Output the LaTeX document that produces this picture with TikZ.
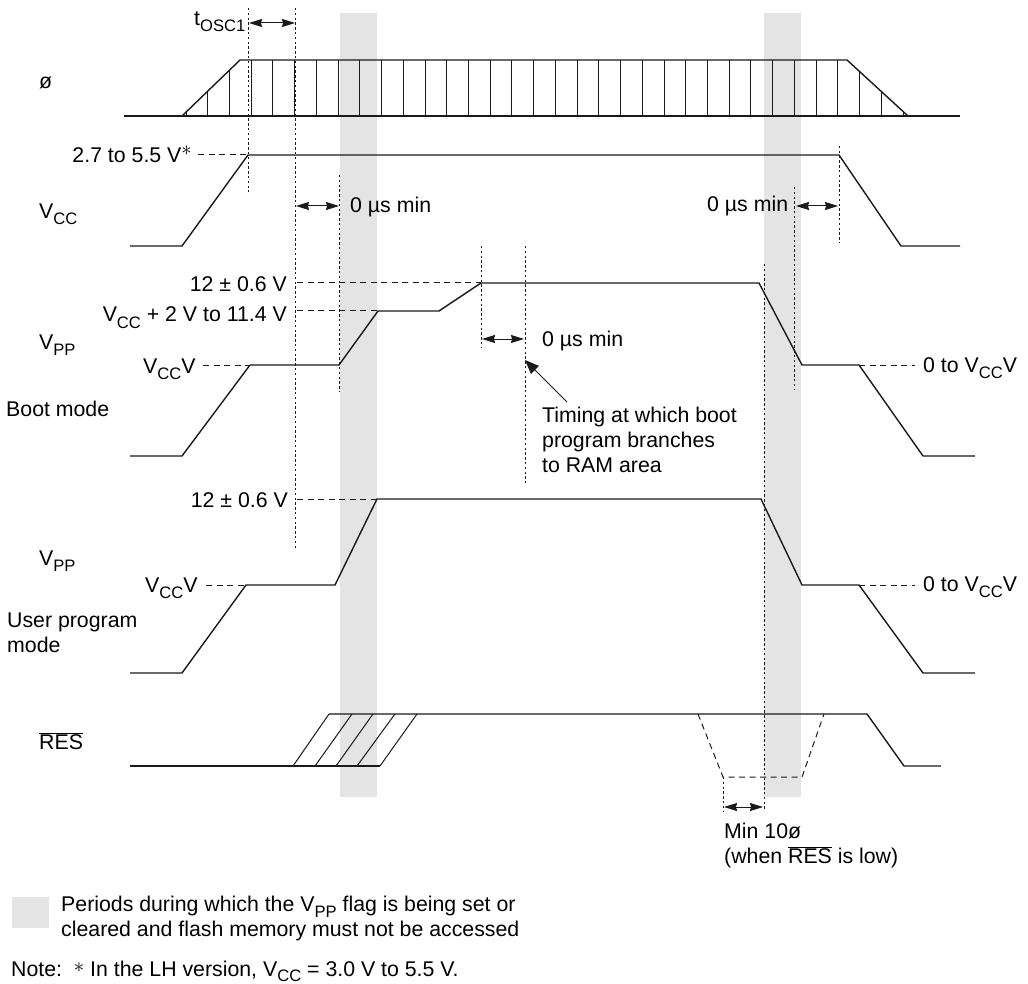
\documentclass[tikz,border=0pt]{standalone}
\usepackage{fontspec}
\setmainfont{Liberation Sans}
\usetikzlibrary{arrows.meta}
\definecolor{bandgray}{HTML}{E4E4E4}
\definecolor{inkdark}{HTML}{1A1A1A}
\newcommand{\lowsub}[1]{\raisebox{-6pt}{\fontsize{16.6}{16.6}\selectfont #1}}
\newcommand{\resbar}{$\overline{\hbox{RES}}$}
\tikzset{
  sig/.style={inkdark,line width=1.4pt,line join=miter},
  hatchline/.style={inkdark,line width=1pt},
  levelline/.style={inkdark,line width=1pt,dash pattern=on 6pt off 4.5pt},
  timeline/.style={inkdark,line width=1pt,dash pattern=on 2.4pt off 2.4pt},
  span/.style={inkdark,line width=1pt,{Stealth[length=13pt,width=8pt,inset=1pt]}-{Stealth[length=13pt,width=8pt,inset=1pt]}},
  lbl/.style={inner sep=0pt,text=black,font=\fontsize{21.3}{25}\selectfont},
  lblw/.style={lbl,anchor=base west},
  lble/.style={lbl,anchor=base east},
  lblm/.style={lbl,anchor=north west,align=left}
}
\begin{document}
\begin{tikzpicture}[x=1pt,y=-1pt]
  \useasboundingbox (0,0) rectangle (1028,984);
  % forbidden periods
  \fill[bandgray] (340,13) rectangle (377,797);
  \fill[bandgray] (764,13) rectangle (801,797);
  \fill[bandgray] (12,897) rectangle (49,928);
  % clock
  \begin{scope}
    \clip (182,116) -- (240,60) -- (847,60) -- (908,116) -- cycle;
    \foreach \k in {0,...,33} {
      \draw[hatchline] ({186+21.73*\k},60) -- ({186+21.73*\k},116);
    }
  \end{scope}
  \draw[sig] (124,116) -- (960,116);
  \draw[sig] (182,116) -- (240,60) -- (847,60) -- (908,116);
  % supply
  \draw[sig] (130,246) -- (182,246) -- (248,155) -- (839,155) -- (901,246) -- (960,246);
  % boot mode
  \draw[sig] (130,456) -- (182,456) -- (250,365) -- (339,365) -- (378,311) -- (439,311)
    -- (481,283) -- (759,283) -- (802,365) -- (859,365) -- (923,456) -- (975,456);
  % user program mode
  \draw[sig] (130,673) -- (182,673) -- (246,585) -- (335,585) -- (377,499) -- (761,499)
    -- (802,585) -- (859,585) -- (923,673) -- (975,673);
  % reset
  \draw[sig] (130,766) -- (380,766);
  \draw[sig] (329,714) -- (867,714) -- (904,766) -- (941,766);
  \foreach \a/\b in {293/329,315/352,336/373,357/395,380/417} {
    \draw[hatchline] (\a,766) -- (\b,714);
  }
  \draw[levelline] (698,714) -- (723,777) -- (802,777) -- (824,714);
  % level guides
  \draw[levelline] (198,155) -- (248,155);
  \draw[levelline] (297,283) -- (481,283);
  \draw[levelline] (297,311) -- (378,311);
  \draw[levelline] (203,365) -- (250,365);
  \draw[levelline] (859,365) -- (915,365);
  \draw[levelline] (297,499) -- (377,499);
  \draw[levelline] (206,585) -- (246,585);
  \draw[levelline] (859,585) -- (915,585);
  % time guides
  \draw[timeline] (248,8) -- (248,192);
  \draw[timeline] (295,8) -- (295,549);
  \draw[timeline] (339.5,175) -- (339.5,392);
  \draw[timeline] (839,146) -- (839,243);
  \draw[timeline] (794,187) -- (794,390);
  \draw[timeline] (481,246) -- (481,348);
  \draw[timeline] (525,246) -- (525,483);
  \draw[timeline] (764,264) -- (764,811);
  \draw[timeline] (723,777) -- (723,811);
  % spans
  \draw[span] (249,23) -- (295,23);
  \draw[span] (296,206) -- (339,206);
  \draw[span] (796,206) -- (838,206);
  \draw[span] (482,339) -- (524,339);
  \draw[span] (724,807) -- (763,807);
  \draw[inkdark,line width=1pt,-{Stealth[length=14pt,width=11pt,inset=0pt]}] (567,402) -- (525,360);
  % signal names
  \node[lblw] (phi) at (39,89) {ø};
  \node[lblw] (vcc) at (39,219) {V\lowsub{CC}};
  \node[lblw] (vppboot) at (39,349) {V\lowsub{PP}};
  \node[lblw] (boot) at (6,416) {Boot mode};
  \node[lblw] (vppuser) at (39,565) {V\lowsub{PP}};
  \node[lblm] (user) at (7,613) {User program\\mode};
  \node[lblw] (res) at (39,749) {\resbar};
  % values
  \node[lblw] (tosc) at (194,26) {t\lowsub{OSC1}};
  \node[lble] (vccmax) at (192,163) {2.7 to 5.5 V\raisebox{7pt}{$*$}};
  \node[lble] (bootpp) at (287,291) {12 ± 0.6 V};
  \node[lble] (bootmid) at (287,322) {V\lowsub{CC} + 2 V to 11.4 V};
  \node[lblw] (bootlow) at (143,373) {V\lowsub{CC}V};
  \node[lblw] (bootoff) at (923,372) {0 to V\lowsub{CC}V};
  \node[lble] (userpp) at (288,507) {12 ± 0.6 V};
  \node[lblw] (userlow) at (145,592) {V\lowsub{CC}V};
  \node[lblw] (useroff) at (923,591) {0 to V\lowsub{CC}V};
  \node[lblw] (minon) at (350,213) {0 µs min};
  \node[lblw] (minoff) at (707,212) {0 µs min};
  \node[lblw] (minbranch) at (542,346) {0 µs min};
  \node[lblm] (branch) at (542,407) {Timing at which boot\\program branches\\to RAM area};
  \node[lblm] (minres) at (724,823) {Min 10ø\\(when \resbar{} is low)};
  % legend and note
  \node[lblm] (legend) at (61,896) {Periods during which the V\lowsub{PP} flag is being set or\\cleared and flash memory must not be accessed};
  \node[lblw] (note) at (11,976) {Note:\ \ \raisebox{4pt}{$*$} In the LH version, V\raisebox{-5pt}{\fontsize{16.6}{16.6}\selectfont CC} = 3.0 V to 5.5 V.};
\end{tikzpicture}
\end{document}
